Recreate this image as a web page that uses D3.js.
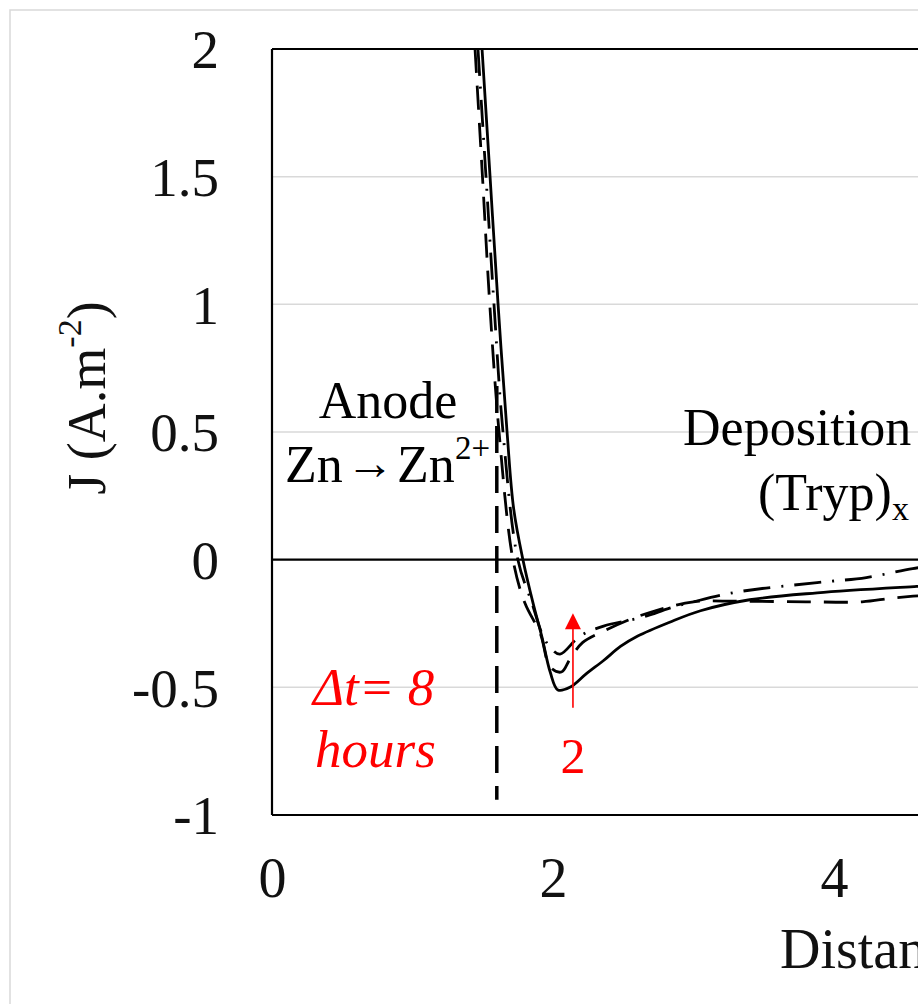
<!DOCTYPE html>
<html>
<head>
<meta charset="utf-8">
<script src="https://cdn.jsdelivr.net/npm/d3@7"></script>
<style>
  html, body { margin: 0; padding: 0; background: #fff; overflow: hidden; }
  svg { display: block; }
  text { font-family: "Liberation Serif", "Times New Roman", serif; }
</style>
</head>
<body>
<svg id="chart" width="918" height="1004"></svg>
<script>
// ---------------- data ----------------
const yTicks = [-1, -0.5, 0, 0.5, 1, 1.5, 2];
const yTickLabels = ["-1", "-0.5", "0", "0.5", "1", "1.5", "2"];
const xTicks = [0, 2, 4];
const xTickLabels = ["0", "2", "4"];
const gridValues = [-0.5, 0.5, 1, 1.5];

// series: solid (Δt = 8 h), dashed, dash-dot
const solidX = [1.495, 1.552, 1.609, 1.673, 1.72, 1.786, 1.858, 1.92, 1.98, 2.035, 2.12, 2.24, 2.36, 2.48, 2.60, 2.83, 3.05, 3.40, 3.88, 4.59, 4.75];
const solidY = [2.0, 1.5, 1.0, 0.5, 0.2, 0.0, -0.17, -0.30, -0.44, -0.51, -0.50, -0.445, -0.395, -0.34, -0.30, -0.245, -0.20, -0.157, -0.13, -0.105, -0.10];

const dashX = [1.445, 1.498, 1.55, 1.616, 1.715, 1.80, 1.91, 1.98, 2.06, 2.12, 2.21, 2.36, 2.52, 2.70, 3.0, 3.35, 3.8, 4.2, 4.42, 4.75];
const dashY = [2.0, 1.5, 1.0, 0.5, 0.0, -0.17, -0.29, -0.42, -0.44, -0.39, -0.325, -0.28, -0.24, -0.205, -0.165, -0.163, -0.165, -0.165, -0.15, -0.135];

const dotX = [1.466, 1.523, 1.58, 1.644, 1.75, 1.85, 1.93, 1.99, 2.05, 2.19, 2.36, 2.64, 2.83, 3.0, 3.33, 3.88, 4.23, 4.56, 4.75];
const dotY = [2.0, 1.5, 1.0, 0.5, 0.0, -0.17, -0.30, -0.35, -0.37, -0.30, -0.26, -0.225, -0.19, -0.165, -0.125, -0.09, -0.07, -0.035, -0.02];

// anode boundary (vertical dashed line) and red arrow
const boundaryX = 1.60;
const boundaryY = [0.68, -0.94];
const arrowX = 2.142;
const arrowY = [-0.58, -0.21];

// ---------------- layout ----------------
const svg = d3.select("#chart");
const x = d3.scaleLinear().domain([0, 4]).range([272, 834]);
const y = d3.scaleLinear().domain([-1, 2]).range([815, 49]);
const plotRight = x(6.5);

// outer light border
svg.append("rect").attr("x", 10).attr("y", 10).attr("width", 1200).attr("height", 1200)
  .attr("fill", "none").attr("stroke", "#d9d9d9").attr("stroke-width", 1.5);

// gridlines
svg.append("g").selectAll("line").data(gridValues).join("line")
  .attr("x1", x(0)).attr("x2", plotRight)
  .attr("y1", d => y(d)).attr("y2", d => y(d))
  .attr("stroke", "#d9d9d9").attr("stroke-width", 1.5);

// plot frame
const frame = svg.append("g").attr("stroke", "#000").attr("stroke-width", 2.2).attr("fill", "none");
frame.append("line").attr("x1", x(0)).attr("x2", plotRight).attr("y1", y(2)).attr("y2", y(2));
frame.append("line").attr("x1", x(0)).attr("x2", plotRight).attr("y1", y(-1)).attr("y2", y(-1));
frame.append("line").attr("x1", x(0)).attr("x2", x(0)).attr("y1", y(2)).attr("y2", y(-1));
frame.append("line").attr("x1", x(0)).attr("x2", plotRight).attr("y1", y(0)).attr("y2", y(0));

// axes (labels only)
const yAxis = d3.axisLeft(y).tickValues(yTicks).tickSize(0).tickPadding(0)
  .tickFormat((d, i) => yTickLabels[i]);
const gy = svg.append("g").attr("transform", "translate(219,0)").call(yAxis);
gy.select(".domain").remove();
gy.selectAll("text").attr("font-size", 55).attr("fill", "#111")
  .attr("font-family", "Liberation Serif, Times New Roman, serif").attr("dy", "0.34em");

const xAxis = d3.axisBottom(x).tickValues(xTicks).tickSize(0).tickPadding(0)
  .tickFormat((d, i) => xTickLabels[i]);
const gx = svg.append("g").attr("transform", "translate(0,856)").call(xAxis);
gx.select(".domain").remove();
gx.selectAll("text").attr("font-size", 56).attr("fill", "#111")
  .attr("font-family", "Liberation Serif, Times New Roman, serif").attr("dy", "0.73em");

// axis titles
const yt = svg.append("text").attr("transform", "translate(105,398) rotate(-90)")
  .attr("text-anchor", "middle").attr("font-size", 54).attr("fill", "#111");
yt.append("tspan").text("J (A.m");
yt.append("tspan").attr("font-size", 34).attr("dy", -24).text("-2");
yt.append("tspan").attr("dy", 24).text(")");

svg.append("text").attr("x", 780).attr("y", 968).attr("font-size", 56).attr("fill", "#111")
  .text("Distance (mm)");

// clip for curves
svg.append("clipPath").attr("id", "plotclip").append("rect")
  .attr("x", x(0)).attr("y", y(2)).attr("width", plotRight - x(0)).attr("height", y(-1) - y(2));

const line = d3.line().x(d => x(d[0])).y(d => y(d[1])).curve(d3.curveCatmullRom.alpha(0.5));
const zip = (a, b) => a.map((v, i) => [v, b[i]]);
const curves = svg.append("g").attr("clip-path", "url(#plotclip)").attr("fill", "none")
  .attr("stroke", "#000").attr("stroke-linejoin", "round");

curves.append("path").datum(zip(dotX, dotY)).attr("d", line)
  .attr("stroke-width", 2.8).attr("stroke-dasharray", "27,11,2,11");
curves.append("path").datum(zip(dashX, dashY)).attr("d", line)
  .attr("stroke-width", 2.8).attr("stroke-dasharray", "24,13");
curves.append("path").datum(zip(solidX, solidY)).attr("d", line)
  .attr("stroke-width", 2.8);

// vertical dashed boundary
svg.append("line").attr("x1", x(boundaryX)).attr("x2", x(boundaryX))
  .attr("y1", y(boundaryY[0])).attr("y2", y(boundaryY[1]))
  .attr("stroke", "#000").attr("stroke-width", 3.5).attr("stroke-dasharray", "27,13");

// red arrow
svg.append("line").attr("x1", x(arrowX)).attr("x2", x(arrowX))
  .attr("y1", y(arrowY[0])).attr("y2", y(arrowY[1]) + 14)
  .attr("stroke", "#ff0000").attr("stroke-width", 1.6);
const ax = x(arrowX), ay = y(arrowY[1]);
svg.append("path").attr("d", `M${ax},${ay} L${ax - 8},${ay + 16} L${ax + 8},${ay + 16} Z`).attr("fill", "#ff0000");

// annotations
svg.append("text").attr("x", 388).attr("y", 418).attr("text-anchor", "middle")
  .attr("font-size", 52).attr("fill", "#000").text("Anode");
svg.append("text").attr("x", 285).attr("y", 482).attr("font-size", 52).attr("fill", "#000").text("Zn");
svg.append("text").attr("x", 370).attr("y", 479).attr("text-anchor", "middle")
  .attr("font-family", "DejaVu Sans").attr("font-size", 48).attr("fill", "#000").text("→");
svg.append("text").attr("x", 397).attr("y", 482).attr("font-size", 52).attr("fill", "#000").text("Zn");
svg.append("text").attr("x", 455).attr("y", 459).attr("font-size", 33).attr("fill", "#000").text("2+");

svg.append("text").attr("x", 683).attr("y", 445).attr("font-size", 52).attr("fill", "#000").text("Deposition");
const tr = svg.append("text").attr("x", 758).attr("y", 510).attr("font-size", 52).attr("fill", "#000");
tr.append("tspan").text("(Tryp)");
tr.append("tspan").attr("font-size", 34).attr("dy", 10).text("x");

svg.append("text").attr("x", 313).attr("y", 705).attr("font-size", 53).attr("font-style", "italic")
  .attr("fill", "#ff0000").text("Δt= 8");
svg.append("text").attr("x", 315).attr("y", 767).attr("font-size", 53).attr("font-style", "italic")
  .attr("fill", "#ff0000").text("hours");
svg.append("text").attr("x", x(arrowX)).attr("y", 773).attr("text-anchor", "middle").attr("font-size", 50)
  .attr("fill", "#ff0000").text("2");
</script>
</body>
</html>
